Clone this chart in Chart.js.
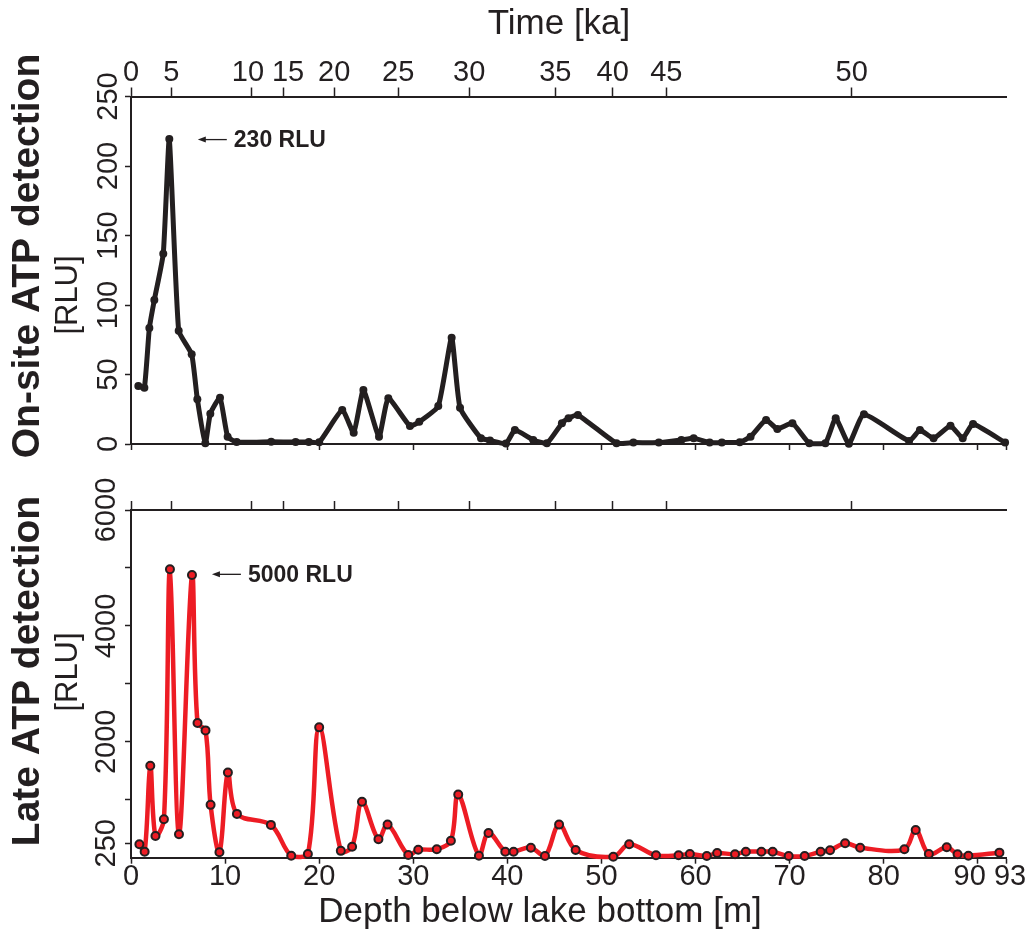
<!DOCTYPE html>
<html>
<head>
<meta charset="utf-8">
<title>ATP detection</title>
<script src="https://cdn.jsdelivr.net/npm/chart.js@4.4.1/dist/chart.umd.min.js"></script>
<style>
  body { margin:0; background:#fff; width:1033px; height:935px; position:relative; overflow:hidden; }
  canvas { position:absolute; left:0; }
  #onsite { top:0; }
  #late { top:470px; }
</style>
</head>
<body>
<canvas id="onsite" width="1033" height="470"></canvas>
<canvas id="late" width="1033" height="465"></canvas>
<script>
// values: depth [m] and RLU
const onsiteDepth = [0.78,1.42,1.95,2.48,3.43,4.07,5.07,6.45,7.05,7.9,8.43,9.46,10.27,11.23,14.9,17.5,18.9,20.0,22.45,23.67,24.7,26.36,27.35,29.65,30.64,32.66,34.08,34.97,37.2,38.15,39.85,40.8,42.75,44.2,45.8,46.5,47.5,51.6,53.4,56.1,58.5,59.8,61.5,62.8,64.7,65.85,67.5,68.7,70.3,72.1,73.8,74.9,76.3,77.9,82.7,83.85,85.3,87.1,88.4,89.5,92.9];
const onsiteRlu = [41.7,40.5,83.4,103.6,136.9,219.4,81.5,64.5,32.2,0.5,21.8,33.3,5.3,1.4,1.6,1.4,1.4,1.2,24.5,8.1,38.8,5.3,32.9,12.9,16,27.3,76.5,26.1,4.1,2.6,0.3,10,2.9,0.5,14.9,18.5,20.9,0.5,1,1,2.9,4.1,1,1,1.3,5.3,17.3,10.8,14.9,0.5,0.5,18.5,0.2,21.4,2.2,10,4.1,13.2,4.1,14.4,1];

const lateDepth = [0.89,1.45,2.05,2.6,3.5,4.14,5.1,6.48,7.07,7.92,8.46,9.4,10.3,11.26,14.87,17.03,18.8,20.0,22.3,23.5,24.55,26.3,27.27,29.47,30.53,32.5,34.0,34.78,36.98,38.0,39.78,40.66,42.5,44.0,45.5,47.26,51.26,52.95,55.8,58.2,59.4,61.2,62.3,64.2,65.35,67.0,68.2,69.9,71.6,73.3,74.3,75.9,77.5,82.2,83.4,84.8,86.7,87.85,89.0,92.3];
const lateRlu = [232,104,1586,375,664,4977,405,4879,2325,2197,912,93,1471,756,566,35,64,2249,118,190,964,318,571,47,138,145,294,1090,35,427,104,104,173,29,571,133,17,232,41,41,64,29,81,59,104,104,104,29,29,104,128,249,173,145,479,64,180,59,35,87];

const depthTicks = [0,10,20,30,40,50,60,70,80,90,93];
const depthTickLabels = ['0','10','20','30','40','50','60','70','80','90  ',' 93'];
const timeDepth = [0,4.28,12.86,16.26,21.6,28.4,35.95,45.1,51.2,56.9,76.6];
const timeKa = ['0','5','10 ',' 15','20','25','30','35','40','45','50'];
const onsiteTicks = [0,50,100,150,200,250];
const lateTicks = [250,1000,2000,3000,4000,5000,6000];
const lateTickLabels = ['250','','2000','','4000','','6000'];

const ink = '#231f20';
const red = '#ed1c24';
const FONT = '"Liberation Sans", Arial, Helvetica, sans-serif';
Chart.defaults.font.family = FONT;
Chart.defaults.color = ink;

function fixSize(sz) {
  return s => { if (s.isHorizontal()) s.height = sz; else s.width = sz; };
}
function setTicks(list) {
  return s => { s.ticks = list.map(v => ({value: v})); };
}
function tickGrid(len) {
  return {display: true, drawOnChartArea: false, drawTicks: true, tickLength: len, color: ink, tickColor: ink, tickWidth: 1.5};
}
const axisBorder = {display: true, color: ink, width: 2};

// titles + the little arrow notes
const sideText = {
  id: 'sideText',
  afterDraw(chart, args, opts) {
    const ctx = chart.ctx;
    ctx.save();
    ctx.fillStyle = ink;
    ctx.textBaseline = 'middle';
    (opts.labels || []).forEach(l => {
      ctx.save();
      ctx.translate(l.x, l.y);
      if (l.rotate) ctx.rotate(-Math.PI / 2);
      ctx.font = l.font;
      ctx.textAlign = 'center';
      ctx.fillText(l.text, 0, 0);
      ctx.restore();
    });
    const a = opts.arrow;
    if (a) {
      const x = chart.scales.x.getPixelForValue(a.x);
      const y = chart.scales.y.getPixelForValue(a.y);
      ctx.strokeStyle = ink;
      ctx.lineWidth = 1.3;
      ctx.beginPath(); ctx.moveTo(x + 5, y); ctx.lineTo(x + 29, y); ctx.stroke();
      ctx.beginPath(); ctx.moveTo(x, y); ctx.lineTo(x + 8, y - 3); ctx.lineTo(x + 8, y + 3); ctx.closePath(); ctx.fill();
      ctx.font = 'bold 23px ' + FONT;
      ctx.textAlign = 'left';
      ctx.fillText(a.text, x + 36, y + 1);
    }
    ctx.restore();
  }
};

new Chart(document.getElementById('onsite'), {
  type: 'line',
  data: {
    datasets: [{
      data: onsiteDepth.map((d, i) => ({x: d, y: onsiteRlu[i]})),
      borderColor: ink, backgroundColor: ink, borderWidth: 5,
      borderJoinStyle: 'round', borderCapStyle: 'round',
      pointRadius: 4, pointBorderWidth: 0, tension: 0.15, clip: false
    }]
  },
  options: {
    responsive: false, animation: false, events: [],
    layout: {padding: {left: 0, right: 27, top: 0, bottom: 0}},
    plugins: {
      legend: {display: false}, tooltip: {enabled: false},
      sideText: {
        labels: [
          {text: 'Time [ka]', x: 559, y: 24, font: '35px ' + FONT},
          {text: 'On-site ATP detection', x: 28, y: 256, rotate: true, font: 'bold 39px ' + FONT},
          {text: '[RLU]', x: 68, y: 295, rotate: true, font: '31px ' + FONT}
        ],
        arrow: {x: 7.1, y: 219, text: '230 RLU'}
      }
    },
    scales: {
      x: {
        type: 'linear', position: 'bottom', min: 0, max: 93,
        afterBuildTicks: setTicks(depthTicks), afterFit: fixSize(26),
        grid: tickGrid(6), border: axisBorder, ticks: {display: false}
      },
      time: {
        type: 'linear', axis: 'x', position: 'top', min: 0, max: 93,
        afterBuildTicks: setTicks(timeDepth), afterFit: fixSize(96.5),
        grid: tickGrid(9), border: axisBorder,
        ticks: {autoSkip: false, maxRotation: 0, padding: 0, font: {size: 29, lineHeight: 1},
          callback: (v, i) => timeKa[i]}
      },
      y: {
        type: 'linear', position: 'left', min: 0, max: 250,
        afterBuildTicks: setTicks(onsiteTicks), afterFit: fixSize(131),
        grid: tickGrid(6), border: axisBorder,
        ticks: {autoSkip: false, minRotation: 90, maxRotation: 90, crossAlign: 'center', padding: -7.7,
          font: {size: 29, lineHeight: 1}}
      }
    }
  },
  plugins: [sideText]
});

new Chart(document.getElementById('late'), {
  type: 'line',
  data: {
    datasets: [{
      data: lateDepth.map((d, i) => ({x: d, y: lateRlu[i]})),
      borderColor: red, borderWidth: 4.5,
      borderJoinStyle: 'round', borderCapStyle: 'round',
      pointRadius: 4, pointBackgroundColor: red, pointBorderColor: ink, pointBorderWidth: 2,
      tension: 0.35, clip: false
    }]
  },
  options: {
    responsive: false, animation: false, events: [],
    layout: {padding: {left: 0, right: 27, top: 0, bottom: 0}},
    plugins: {
      legend: {display: false}, tooltip: {enabled: false},
      sideText: {
        labels: [
          {text: 'Depth below lake bottom [m]', x: 540, y: 442, font: '35px ' + FONT},
          {text: 'Late ATP detection', x: 28, y: 201, rotate: true, font: 'bold 39px ' + FONT},
          {text: '[RLU]', x: 68, y: 202, rotate: true, font: '31px ' + FONT}
        ],
        arrow: {x: 8.6, y: 4890, text: '5000 RLU'}
      }
    },
    scales: {
      x: {
        type: 'linear', position: 'bottom', min: 0, max: 93,
        afterBuildTicks: setTicks(depthTicks), afterFit: fixSize(77.3),
        grid: tickGrid(6), border: axisBorder,
        ticks: {autoSkip: false, maxRotation: 0, padding: -1, font: {size: 29, lineHeight: 1},
          callback: (v, i) => depthTickLabels[i]}
      },
      time: {
        type: 'linear', axis: 'x', position: 'top', min: 0, max: 93,
        afterBuildTicks: setTicks(timeDepth), afterFit: fixSize(40),
        grid: tickGrid(9), border: axisBorder, ticks: {display: false}
      },
      y: {
        type: 'linear', position: 'left', min: 0, max: 6000,
        afterBuildTicks: setTicks(lateTicks), afterFit: fixSize(131),
        grid: tickGrid(6), border: axisBorder,
        ticks: {autoSkip: false, minRotation: 90, maxRotation: 90, crossAlign: 'center', padding: -14.75,
          font: {size: 29, lineHeight: 1}, callback: (v, i) => lateTickLabels[i]}
      }
    }
  },
  plugins: [sideText]
});
</script>
</body>
</html>
